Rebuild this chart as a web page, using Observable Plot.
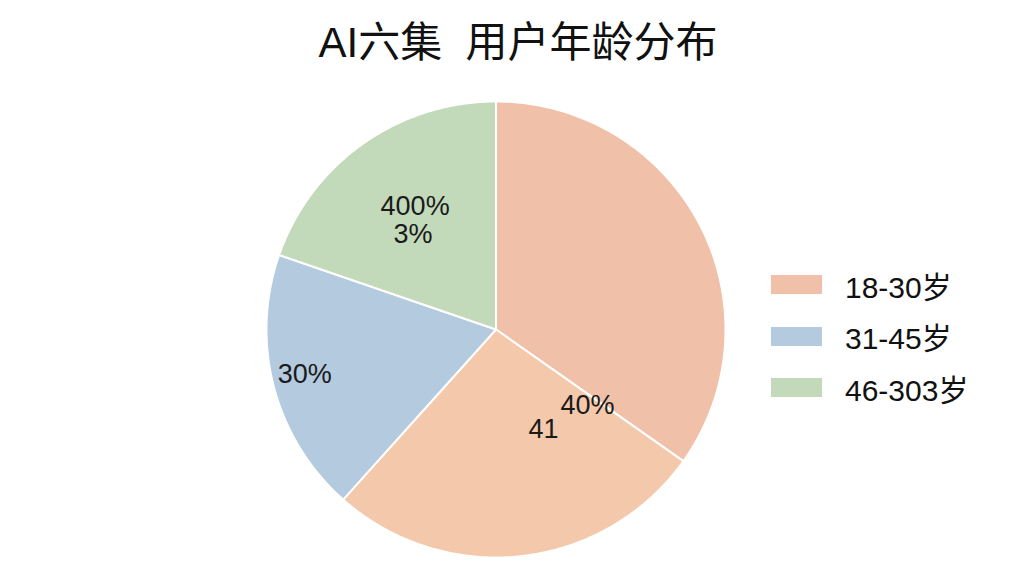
<!DOCTYPE html>
<html><head><meta charset="utf-8">
<script src="https://cdn.jsdelivr.net/npm/d3@7"></script>
<script src="https://cdn.jsdelivr.net/npm/@observablehq/plot@0.6"></script>
<style>
body{margin:0;background:#fff;font-family:"Liberation Sans","Noto Sans CJK SC",sans-serif;}
#wrap{position:relative;width:1024px;height:576px;overflow:hidden;}
#title{position:absolute;left:6px;top:8px;width:1024px;text-align:center;font-size:42px;color:#111;white-space:pre;font-family:"Liberation Sans","Noto Sans CJK SC",sans-serif;}
#legend{position:absolute;left:771px;top:259px;}
.item{display:flex;align-items:center;height:51.5px;font-size:30px;color:#111;}
.sw{width:51px;height:19px;margin-right:23px;}
</style></head>
<body><div id="wrap"><div id="chart"></div><div id="title"></div><div id="legend"></div></div>
<script>
const title = "AI六集  用户年龄分布";
const categories = ["18-30岁(a)", "18-30岁(b)", "31-45岁", "46-303岁"];
const values = [34.8, 26.8, 18.7, 19.7];
const colors = ["#f0c0a8", "#f4c8aa", "#b4cade", "#c2dab9"];
const legendLabels = ["18-30岁", "31-45岁", "46-303岁"];
const legendColors = ["#f0c0a8", "#b4cade", "#c2dab9"];
// garbled slice labels: text, slice index, pixel offset from the slice centroid
const labelTexts = ["400%", "3%", "30%", "41", "40%"];
const labelSlices = [3, 3, 2, 1, 1];
const labelDx = [-1, -3, -58, 32, 76];
const labelDy = [-12, 16, 10, -36, -60];

const pie = d3.pie().sort(null).value(d => d.value)(categories.map((c,i)=>({c, value: values[i], i})));
const pts = [];
pie.forEach(s => {
  const n = 120;
  pts.push({k: s.data.i, x: 0, y: 0});
  for (let j = 0; j <= n; j++) {
    const a = s.startAngle + (s.endAngle - s.startAngle) * j / n;
    pts.push({k: s.data.i, x: Math.sin(a), y: Math.cos(a)});
  }
  pts.push({k: s.data.i, x: 0, y: 0});
});
const labels = labelTexts.map((t, i) => {
  const s = pie[labelSlices[i]];
  const a = (s.startAngle + s.endAngle) / 2;
  return {t, x: 0.6 * Math.sin(a), y: 0.6 * Math.cos(a), dx: labelDx[i], dy: labelDy[i]};
});

const plot = Plot.plot({
  width: 1024, height: 576, margin: 0,
  x: {domain: [-1, 1], range: [266, 725], axis: null},
  y: {domain: [-1, 1], range: [557, 101], axis: null},
  color: {domain: categories, range: colors},
  marks: [
    Plot.line(pts, {x: "x", y: "y", z: "k", fill: d => categories[d.k], stroke: "white", strokeWidth: 2, curve: "linear"}),
    ...labels.map(l => Plot.text([l], {x: "x", y: "y", text: "t", dx: l.dx, dy: l.dy, fontSize: 27, fill: "#1a1a1a", fontFamily: "Liberation Sans, sans-serif"}))
  ]
});
document.getElementById("chart").appendChild(plot);
document.getElementById("title").textContent = title;
const lg = document.getElementById("legend");
legendLabels.forEach((l, i) => {
  const d = document.createElement("div"); d.className = "item";
  d.innerHTML = `<div class="sw" style="background:${legendColors[i]}"></div><span>${l}</span>`;
  lg.appendChild(d);
});
</script></body></html>
